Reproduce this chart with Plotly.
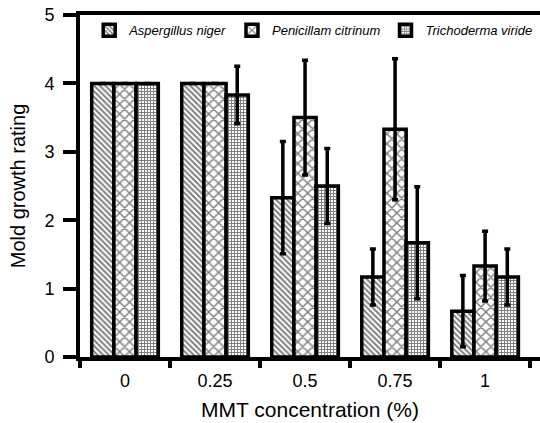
import plotly.graph_objects as go

categories = ["0", "0.25", "0.5", "0.75", "1"]
series_names = ["Aspergillus niger", "Penicillam citrinum", "Trichoderma viride"]
aspergillus = [4.0, 4.0, 2.33, 1.17, 0.67]
aspergillus_err = [0, 0, 0.82, 0.41, 0.52]
penicillam = [4.0, 4.0, 3.5, 3.33, 1.33]
penicillam_err = [0, 0, 0.84, 1.03, 0.51]
trichoderma = [4.0, 3.83, 2.5, 1.67, 1.17]
trichoderma_err = [0, 0.42, 0.55, 0.82, 0.41]
patterns = ["\\", "x", "+"]
pattern_sizes = [4, 7, 3]
pattern_solidity = [0.5, 0.38, 0.55]

fig = go.Figure()
for name, vals, errs, pat, ps, sol in zip(
    series_names,
    [aspergillus, penicillam, trichoderma],
    [aspergillus_err, penicillam_err, trichoderma_err],
    patterns, pattern_sizes, pattern_solidity,
):
    fig.add_trace(go.Bar(
        x=categories, y=vals, name=name,
        marker=dict(color="white", line=dict(color="black", width=3.5),
                    pattern=dict(shape=pat, fgcolor="black", bgcolor="white",
                                 size=ps, solidity=sol)),
        error_y=dict(type="data", array=errs, visible=True, color="black",
                     thickness=3.5, width=3),
    ))

fig.update_layout(
    width=540, height=423,
    margin=dict(l=80, r=0, t=15, b=66),
    plot_bgcolor="white", paper_bgcolor="white",
    barmode="group", bargap=0.26, bargroupgap=0,
    font=dict(family="Liberation Sans, Arial", size=18, color="black"),
    legend=dict(orientation="h", x=0.02, y=0.955, xanchor="left", yanchor="middle",
                font=dict(size=13, style="italic"), bgcolor="rgba(0,0,0,0)",
                itemwidth=30, traceorder="normal"),
    showlegend=True,
)
fig.update_xaxes(
    type="category", range=[-0.5, 4.61], tickson="boundaries", automargin=False,
    showline=True, linecolor="black", linewidth=4, mirror=True,
    ticks="outside", ticklen=7, tickwidth=3.5, tickcolor="black",
    showgrid=False, zeroline=False, ticklabelstandoff=4,
    title=dict(text="MMT concentration (%)", standoff=14, font=dict(size=21)),
    tickfont=dict(size=18),
)
fig.update_yaxes(
    range=[0, 5], tickvals=[0, 1, 2, 3, 4, 5], automargin=False,
    showline=True, linecolor="black", linewidth=4,
    ticks="outside", ticklen=13, tickwidth=3.5, tickcolor="black",
    showgrid=False, zeroline=False, ticklabelstandoff=5,
    ticklabeloverflow="allow",
    title=dict(text="Mold growth rating", standoff=14, font=dict(size=20)),
    tickfont=dict(size=18),
)

# remove the page's default 8px body margin so the figure fills the window
fig.write_html("out.html", config={"displayModeBar": False},
               post_script="document.body.style.margin='0px';")
